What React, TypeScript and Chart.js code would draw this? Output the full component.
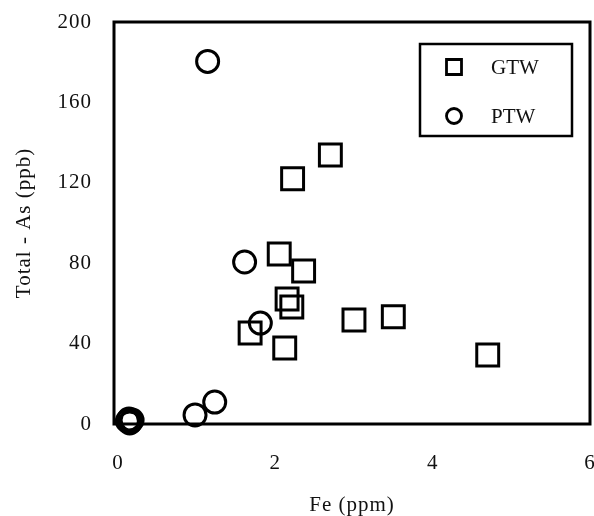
import React, { useEffect, useRef } from 'react';
import { Chart, registerables } from 'chart.js';
Chart.register(...registerables);

const seriesLabels = ['GTW', 'PTW'];
const gtwFe = [2.22, 2.70, 2.05, 2.36, 2.15, 2.21, 1.68, 2.12, 3.00, 3.50, 4.70];
const gtwAs = [122, 133.8, 84.6, 76.1, 62.2, 58.2, 45.3, 37.8, 51.7, 53.4, 34.3];
const ptwFe = [1.14, 1.61, 1.81, 1.23, 0.98, 0.12, 0.15, 0.18, 0.16, 0.14];
const ptwAs = [180.4, 80.6, 50.2, 10.9, 4.5, 1.5, 0.5, 2, 1, 2.5];
const xTicks = [0, 2, 4, 6];
const yTicks = [0, 40, 80, 120, 160, 200];
const xTitle = 'Fe (ppm)';
const yTitle = 'Total - As (ppb)';

const FONT = '"Liberation Serif", "Times New Roman", serif';

const framePlugin = {
  id: 'frameAndLegend',
  beforeDraw(chart: any) {
    (chart.ctx as any).letterSpacing = '1px';
  },
  afterDraw(chart: any) {
    const { ctx, chartArea } = chart;
    ctx.save();
    ctx.letterSpacing = '0px';
    ctx.strokeStyle = '#000';
    ctx.lineWidth = 3;
    ctx.strokeRect(chartArea.left, chartArea.top, chartArea.right - chartArea.left, chartArea.bottom - chartArea.top);
    // legend
    const lx = 420, ly = 44, lw = 152, lh = 92;
    ctx.fillStyle = '#fff';
    ctx.fillRect(lx, ly, lw, lh);
    ctx.lineWidth = 2.5;
    ctx.strokeRect(lx, ly, lw, lh);
    const items = chart.data.datasets;
    items.forEach((ds: any, i: number) => {
      const cx = 454;
      const cy = 67 + i * 49;
      ctx.lineWidth = 2.8;
      ctx.strokeStyle = '#000';
      ctx.beginPath();
      if (ds.pointStyle === 'rect') {
        ctx.rect(cx - 7.5, cy - 7.5, 15, 15);
      } else {
        ctx.arc(cx, cy, 7.5, 0, Math.PI * 2);
      }
      ctx.stroke();
      ctx.fillStyle = '#111';
      ctx.font = `21px ${FONT}`;
      ctx.textAlign = 'left';
      ctx.textBaseline = 'middle';
      ctx.fillText(ds.label, 491, cy + 1);
    });
    ctx.restore();
    (ctx as any).letterSpacing = '0px';
  },
};

const zeroPad = (s: any) => {
  s.paddingTop = 0;
  s.paddingBottom = 0;
  s.paddingLeft = 0;
  s.paddingRight = 0;
};

export default function App() {
  const ref = useRef<HTMLCanvasElement | null>(null);
  useEffect(() => {
    if (!ref.current) return;
    const chart = new Chart(ref.current, {
      type: 'scatter',
      data: {
        datasets: [
          {
            label: seriesLabels[0],
            data: gtwFe.map((x, i) => ({ x, y: gtwAs[i] })),
            pointStyle: 'rect',
            pointRadius: 15.5,
            pointBorderWidth: 3,
            borderColor: '#000',
            backgroundColor: 'rgba(0,0,0,0)',
            clip: false as any,
          },
          {
            label: seriesLabels[1],
            data: ptwFe.map((x, i) => ({ x, y: ptwAs[i] })),
            pointStyle: 'circle',
            pointRadius: 11,
            pointBorderWidth: 3,
            borderColor: '#000',
            backgroundColor: 'rgba(0,0,0,0)',
            clip: false as any,
          },
        ],
      },
      options: {
        animation: false,
        responsive: false,
        layout: { autoPadding: false, padding: { top: 22, right: 4, left: 0, bottom: 0 } },
        plugins: { legend: { display: false }, tooltip: { enabled: false } },
        scales: {
          x: {
            type: 'linear',
            min: -0.05,
            max: 6,
            grid: { display: false, drawTicks: false },
            border: { display: false },
            afterBuildTicks: (s: any) => { s.ticks = xTicks.map((v) => ({ value: v })); },
            afterFit: (s: any) => { s.height = 92; zeroPad(s); },
            ticks: { padding: 27, color: '#111', font: { family: FONT, size: 21 }, maxRotation: 0 },
            title: { display: true, text: xTitle, color: '#111', font: { family: FONT, size: 21 }, padding: { top: 0, bottom: -2 } },
          },
          y: {
            type: 'linear',
            min: 0,
            max: 200,
            grid: { display: false, drawTicks: false },
            border: { display: false },
            afterBuildTicks: (s: any) => { s.ticks = yTicks.map((v) => ({ value: v })); },
            afterFit: (s: any) => { s.width = 114; zeroPad(s); },
            ticks: { padding: 22, color: '#111', font: { family: FONT, size: 21 } },
            title: { display: true, text: yTitle, color: '#111', font: { family: FONT, size: 21 }, padding: { top: 12, bottom: 0 } },
          },
        },
      },
      plugins: [framePlugin],
    } as any);
    return () => chart.destroy();
  }, []);
  return (
    <div style={{ position: 'fixed', left: 0, top: 0, width: 594, height: 516, background: '#fff' }}>
      <canvas ref={ref} width={594} height={516} style={{ width: 594, height: 516 }} />
    </div>
  );
}
